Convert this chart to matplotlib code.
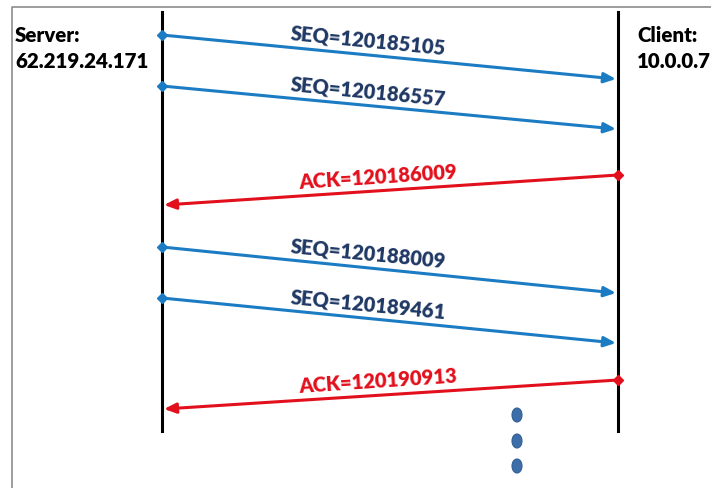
import matplotlib
matplotlib.use('Agg')
import matplotlib.pyplot as plt
from matplotlib.patches import Ellipse

# message labels, top to bottom
labels = ['SEQ=120185105', 'SEQ=120186557', 'ACK=120186009',
          'SEQ=120188009', 'SEQ=120189461', 'ACK=120190913']
kinds = ['seq', 'seq', 'ack', 'seq', 'seq', 'ack']
# y (pixels) where each message leaves and where it lands
y_send = [36, 87, 176, 248, 299, 381]
y_recv = [80, 130, 206, 294, 344, 410]
dots_y = [416, 442, 467]

server_txt = ['Server:', '62.219.24.171']
client_txt = ['Client:', '10.0.0.7']

BLUE = '#1c7cc3'
RED = '#e2101c'
NAVY = '#1f3864'
FONT = 'Lato'
WEIGHT = 'heavy'

fig = plt.figure(figsize=(7.11, 4.89), dpi=100)
ax = fig.add_axes([0, 0, 1, 1])
ax.set_xlim(0, 711)
ax.set_ylim(489, 0)
ax.axis('off')

# frame (grey border left/top)
ax.plot([11.5, 11.5, 711], [489, 7.5, 7.5], color='#8c8c8c', lw=1.2)

xl, xr = 162, 618
ax.plot([xl, xl], [13, 432], color='black', lw=2.2)
ax.plot([xr, xr], [13, 432], color='black', lw=2.2)

for i, t in enumerate(server_txt):
    ax.text(15, 35 + 27 * i, t, fontsize=14.8, fontweight=WEIGHT, family=FONT,
            va='center', ha='left')
for i, t in enumerate(client_txt):
    ax.text(637, 35 + 27 * i, t, fontsize=14.8, fontweight=WEIGHT, family=FONT,
            va='center', ha='left')

for lab, k, y0, y1 in zip(labels, kinds, y_send, y_recv):
    if k == 'seq':
        x0, x1, col, tcol = xl, xr - 2, BLUE, NAVY
    else:
        x0, x1, col, tcol = xr, xl + 2, RED, RED
    ax.annotate('', xy=(x1, y1), xytext=(x0, y0),
                arrowprops=dict(arrowstyle='-|>,head_length=0.7,head_width=0.3',
                                color=col, lw=2.2, shrinkA=0, shrinkB=0))
    ax.plot(x0, y0, marker='D', ms=5.5, color=col)
    # label above the middle of the arrow
    xm = 368 if k == 'seq' else 378
    ym = y0 + (y1 - y0) * (xm - x0) / (x1 - x0)
    ang = -5.6 if k == 'seq' else 3.8
    ax.text(xm, ym - 15, lab, color=tcol, fontsize=14.5,
            fontweight=WEIGHT, family=FONT, rotation=ang, rotation_mode='anchor',
            ha='center', va='center')

for y in dots_y:
    ax.add_patch(Ellipse((517, y), 10, 14, facecolor='#3d6ea8', edgecolor='#2f5f99', lw=0.8))

fig.savefig('out.png', dpi=100)
